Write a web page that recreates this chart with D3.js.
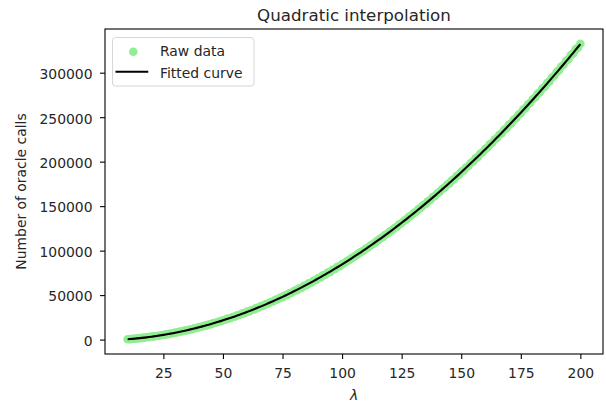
<!DOCTYPE html>
<html lang="en">
<head>
<meta charset="utf-8">
<title>Quadratic interpolation</title>
<script src="https://cdn.jsdelivr.net/npm/d3@7"></script>
<style>
  body { margin: 0; background: #fff; }
  text { font-family: "DejaVu Sans", sans-serif; fill: #262626; }
</style>
</head>
<body>
<script>
// lambda values of the raw measurements (10 .. 200, step 1)
var lambdaStart = 10;
var oracleCalls = [
  412, 538, 861, 1009, 1372, 1561, 1947, 2163, 2598, 2830,
  3311, 3562, 4089, 4361, 4920, 5214, 5830, 6152, 6801, 7139,
  7836, 8190, 8947, 9310, 10112, 10485, 11370, 11702, 12671, 13011,
  13990, 14440, 15410, 15880, 16910, 17390, 18460, 18950, 20080, 20590,
  21780, 22290, 23530, 24050, 25350, 25870, 27230, 27770, 29180, 29720,
  31190, 31750, 33270, 33840, 35410, 35990, 37620, 38210, 39890, 40490,
  42220, 42840, 44620, 45260, 47080, 47740, 49610, 50280, 52200, 52890,
  54860, 55560, 57590, 58300, 60380, 61100, 63230, 63970, 66150, 66900,
  69130, 69900, 72180, 72960, 75290, 76090, 78460, 79280, 81710, 82540,
  84810, 86090, 88200, 89540, 91610, 92950, 94730, 96930, 98610, 100020,
  102330, 103700, 105980, 107420, 109260, 111710, 113540, 115010, 117480, 118890,
  121390, 122880, 125470, 126930, 129540, 131020, 133610, 135170, 137890, 139420,
  142180, 143700, 146510, 148050, 150910, 152460, 155390, 156960, 159920, 161510,
  164530, 166120, 169200, 170810, 173930, 175560, 178720, 180350, 183590, 185240,
  188520, 190170, 193510, 195170, 198570, 200240, 203690, 205370, 208880, 210570,
  214130, 215840, 219450, 221160, 224830, 226560, 230270, 232020, 235780, 237540,
  241360, 243120, 246990, 248780, 252700, 254500, 258470, 260280, 264300, 266130,
  270200, 272050, 276160, 278030, 282190, 284070, 288280, 290180, 294430, 296350,
  300660, 302590, 306940, 308900, 313290, 315270, 319700, 321710, 326170, 328210,
  332500
];
var xTicks = [25, 50, 75, 100, 125, 150, 175, 200];
var yTicks = [0, 50000, 100000, 150000, 200000, 250000, 300000];

var rawData = oracleCalls.map(function(v, i) {
    return {x: lambdaStart + i, y: v};
});

// least squares fit y = a*x^2 + b*x + c
function quadFit(data) {
    var s = [0, 0, 0, 0, 0], t = [0, 0, 0];
    data.forEach(function(d) {
        var p = 1;
        for (var k = 0; k < 5; k++) {
            s[k] += p;
            if (k < 3) t[k] += p * d.y;
            p *= d.x;
        }
    });
    var m = [[s[4], s[3], s[2], t[2]],
             [s[3], s[2], s[1], t[1]],
             [s[2], s[1], s[0], t[0]]];
    for (var i = 0; i < 3; i++) {
        for (var j = i + 1; j < 3; j++) {
            var f = m[j][i] / m[i][i];
            for (var k = i; k < 4; k++) m[j][k] -= f * m[i][k];
        }
    }
    var r = [0, 0, 0];
    for (var i = 2; i >= 0; i--) {
        var v = m[i][3];
        for (var k = i + 1; k < 3; k++) v -= m[i][k] * r[k];
        r[i] = v / m[i][i];
    }
    return r;
}
var coef = quadFit(rawData);
var fitted = rawData.map(function(d) {
    return {x: d.x, y: coef[0] * d.x * d.x + coef[1] * d.x + coef[2]};
});

var w = 606, h = 404;
var pl = 105, pr = 603, pt = 29, pb = 354;

var svg = d3.select("body").append("svg")
    .attr("width", w)
    .attr("height", h);

// matplotlib style 5% margins
var xe = d3.extent(rawData, function(d) { return d.x; });
var ye = d3.extent(rawData, function(d) { return d.y; });
var xm = (xe[1] - xe[0]) * 0.05, ym = (ye[1] - ye[0]) * 0.05;

var x = d3.scaleLinear().domain([xe[0] - xm, xe[1] + xm]).range([pl, pr]);
var y = d3.scaleLinear().domain([ye[0] - ym, ye[1] + ym]).range([pb, pt]);

var plot = svg.append("g");
plot.append("clipPath").attr("id", "clip")
    .append("rect")
    .attr("x", pl).attr("y", pt)
    .attr("width", pr - pl).attr("height", pb - pt);

var marks = plot.append("g").attr("clip-path", "url(#clip)");
marks.selectAll("circle")
    .data(rawData)
    .enter()
    .append("circle")
    .attr("cx", function(d) { return x(d.x); })
    .attr("cy", function(d) { return y(d.y); })
    .attr("r", 4.3)
    .attr("fill", "#90ee90");

marks.append("path")
    .datum(fitted)
    .attr("fill", "none")
    .attr("stroke", "#000")
    .attr("stroke-width", 2.1)
    .attr("d", d3.line()
        .x(function(d) { return x(d.x); })
        .y(function(d) { return y(d.y); }));

// axes
var xAxis = svg.append("g")
    .attr("transform", "translate(0," + pb + ")")
    .call(d3.axisBottom(x).tickValues(xTicks).tickSize(5).tickPadding(9).tickSizeOuter(0));
var yAxis = svg.append("g")
    .attr("transform", "translate(" + pl + ",0)")
    .call(d3.axisLeft(y).tickValues(yTicks).tickSize(5).tickPadding(7.5).tickSizeOuter(0)
        .tickFormat(d3.format("d")));
[xAxis, yAxis].forEach(function(g) {
    g.select(".domain").remove();
    g.selectAll("line").attr("stroke", "#000").attr("stroke-width", 1.1);
    g.selectAll("text").attr("font-size", "13.9px")
        .attr("font-family", "DejaVu Sans, sans-serif").attr("fill", "#262626");
});
yAxis.selectAll("text").attr("dy", "0.42em");

svg.append("rect")
    .attr("x", pl).attr("y", pt)
    .attr("width", pr - pl).attr("height", pb - pt)
    .attr("fill", "none")
    .attr("stroke", "#000")
    .attr("stroke-width", 1.1);

// labels
svg.append("text")
    .attr("x", (pl + pr) / 2).attr("y", 21)
    .attr("text-anchor", "middle")
    .attr("font-size", "16.7px")
    .text("Quadratic interpolation");

svg.append("text")
    .attr("x", (pl + pr) / 2).attr("y", 400)
    .attr("text-anchor", "middle")
    .attr("font-size", "13.9px")
    .attr("font-style", "italic")
    .text("λ");

svg.append("text")
    .attr("transform", "translate(26," + (pt + pb) / 2 + ") rotate(-90)")
    .attr("text-anchor", "middle")
    .attr("font-size", "13.9px")
    .text("Number of oracle calls");

// legend
var legend = svg.append("g");
legend.append("rect")
    .attr("x", 112.5).attr("y", 37.5)
    .attr("width", 141.5).attr("height", 48.5)
    .attr("rx", 3)
    .attr("fill", "#fff").attr("fill-opacity", 0.8)
    .attr("stroke", "#d6d6d6").attr("stroke-width", 1);
legend.append("circle")
    .attr("cx", 133.3).attr("cy", 51.7).attr("r", 4.3)
    .attr("fill", "#90ee90");
legend.append("line")
    .attr("x1", 115.5).attr("x2", 148.3)
    .attr("y1", 71.7).attr("y2", 71.7)
    .attr("stroke", "#000").attr("stroke-width", 2.1);
legend.append("text")
    .attr("x", 160).attr("y", 55.5)
    .attr("font-size", "13.9px")
    .text("Raw data");
legend.append("text")
    .attr("x", 160).attr("y", 77.5)
    .attr("font-size", "13.9px")
    .text("Fitted curve");
</script>
</body>
</html>
